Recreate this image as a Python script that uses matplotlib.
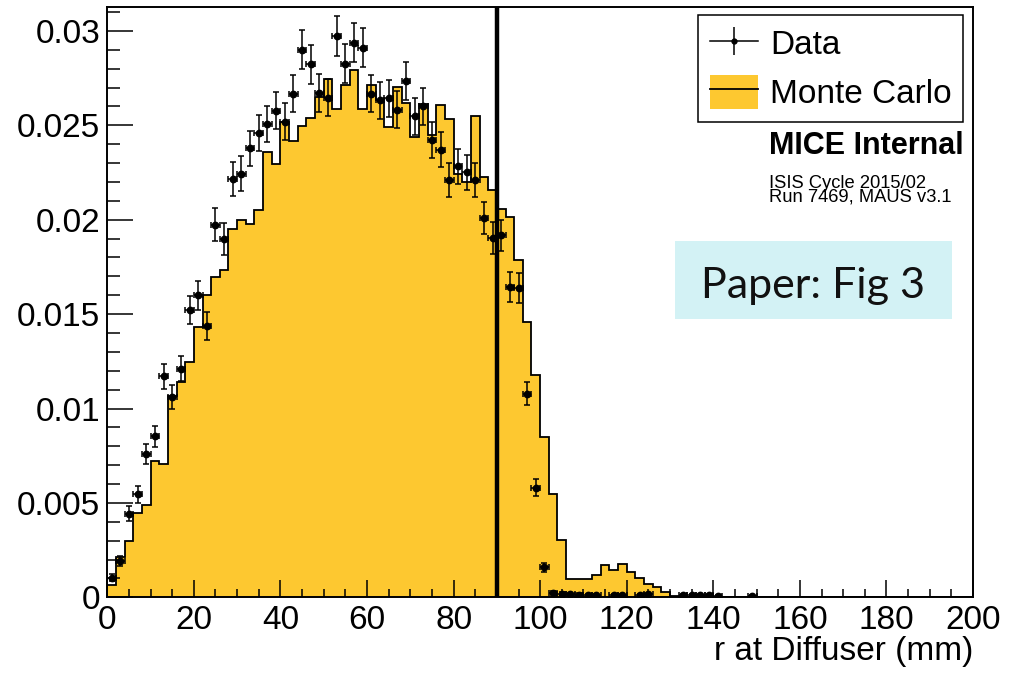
import numpy as np
import matplotlib
matplotlib.use("Agg")
import matplotlib.pyplot as plt
from matplotlib.patches import Patch, Rectangle
from matplotlib.lines import Line2D
from matplotlib.legend_handler import HandlerTuple
from matplotlib.ticker import MultipleLocator, FixedLocator, FixedFormatter

plt.rcParams['font.family'] = ['Liberation Sans', 'DejaVu Sans']

# ---------------- data ----------------
bin_edges = np.arange(0, 202, 2)  # 2 mm bins from 0 to 200 mm

mc_values = [
    0.00064, 0.00214, 0.00298, 0.00447, 0.00487, 0.00720, 0.00706, 0.01065, 0.01140, 0.01246,
    0.01430, 0.01600, 0.01697, 0.01736, 0.01950, 0.01997, 0.01976, 0.02050, 0.02359, 0.02297,
    0.02520, 0.02415, 0.02495, 0.02541, 0.02650, 0.02744, 0.02585, 0.02712, 0.02792, 0.02589,
    0.02712, 0.02636, 0.02491, 0.02703, 0.02620, 0.02438, 0.02615, 0.02447, 0.02610, 0.02532,
    0.02244, 0.02200, 0.02550, 0.02226, 0.02160, 0.02059, 0.02015, 0.01789, 0.01458, 0.01176,
    0.00849, 0.00549, 0.00306, 0.00097, 0.00097, 0.00097, 0.00120, 0.00172, 0.00145, 0.00174,
    0.00136, 0.00104, 0.00069, 0.00053, 0.00030, 0.00008, 0.00004, 0.00004, 0.00004, 0.00004,
    0.00004, 0.00004, 0.00004, 0.0, 0.0, 0.0, 0.0, 0.0, 0.0, 0.0,
    0.0, 0.0, 0.0, 0.0, 0.0, 0.0, 0.0, 0.0, 0.0, 0.0,
    0.0, 0.0, 0.0, 0.0, 0.0, 0.0, 0.0, 0.0, 0.0, 0.0,
]

data_values = [
    0.00104, 0.00192, 0.00443, 0.00546, 0.00757, 0.00853, 0.01171, 0.01061, 0.01211, 0.01520,
    0.01600, 0.01437, 0.01974, 0.01898, 0.02216, 0.02244, 0.02378, 0.02458, 0.02507, 0.02578,
    0.02520, 0.02668, 0.02901, 0.02823, 0.02673, 0.02647, 0.02972, 0.02827, 0.02938, 0.02912,
    0.02668, 0.02633, 0.02643, 0.02583, 0.02735, 0.02548, 0.02601, 0.02421, 0.02371, 0.02209,
    0.02283, 0.02251, 0.02209, 0.02008, 0.01905, 0.01917, 0.01644, 0.01638, 0.01079, 0.00581,
    0.00160, 0.00025, 0.00020, 0.00016, 0.00014, 0.00013, 0.00012, 0.0, 0.00010, 0.00010,
    0.0, 0.00010, 0.00015, 0.0, 0.0, 0.0, 0.00010, 0.00010, 0.00010, 0.00010,
    0.00008, 0.0, 0.0, 0.0, 0.00008, 0.0, 0.0, 0.0, 0.0, 0.0,
    0.0, 0.0, 0.0, 0.0, 0.0, 0.0, 0.0, 0.0, 0.0, 0.0,
    0.0, 0.0, 0.0, 0.0, 0.0, 0.0, 0.0, 0.0, 0.0, 0.0,
]

data_errors = [
    0.00018, 0.00027, 0.00041, 0.00045, 0.00053, 0.00056, 0.00066, 0.00063, 0.00067, 0.00075,
    0.00077, 0.00073, 0.00086, 0.00084, 0.00091, 0.00091, 0.00094, 0.00096, 0.00097, 0.00098,
    0.00097, 0.00100, 0.00104, 0.00102, 0.00100, 0.00099, 0.00105, 0.00103, 0.00105, 0.00104,
    0.00100, 0.00099, 0.00099, 0.00098, 0.00101, 0.00097, 0.00098, 0.00095, 0.00094, 0.00091,
    0.00092, 0.00092, 0.00091, 0.00086, 0.00084, 0.00084, 0.00078, 0.00078, 0.00063, 0.00046,
    0.00024, 0.00010, 0.00009, 0.00008, 0.00007, 0.00007, 0.00007, 0.0, 0.00006, 0.00006,
    0.0, 0.00006, 0.00007, 0.0, 0.0, 0.0, 0.00006, 0.00006, 0.00006, 0.00006,
    0.00005, 0.0, 0.0, 0.0, 0.00005, 0.0, 0.0, 0.0, 0.0, 0.0,
    0.0, 0.0, 0.0, 0.0, 0.0, 0.0, 0.0, 0.0, 0.0, 0.0,
    0.0, 0.0, 0.0, 0.0, 0.0, 0.0, 0.0, 0.0, 0.0, 0.0,
]

x_ticks = [0, 20, 40, 60, 80, 100, 120, 140, 160, 180, 200]
x_tick_labels = ['0', '20', '40', '60', '80', '100', '120', '140', '160', '180', '200']
y_ticks = [0, 0.005, 0.01, 0.015, 0.02, 0.025, 0.03]
y_tick_labels = ['0', '0.005', '0.01', '0.015', '0.02', '0.025', '0.03']
cut_position = 90
x_label = 'r at Diffuser (mm)'
legend_labels = ['Data', 'Monte Carlo']
info_title = 'MICE Internal'
info_lines = ['ISIS Cycle 2015/02', 'Run 7469, MAUS v3.1']
stamp_text = 'Paper: Fig 3'

# ---------------- styling ----------------
MC_COLOR = '#FDC830'
STAMP_COLOR = '#D3F2F5'

edges = np.asarray(bin_edges, dtype=float)
mc = np.asarray(mc_values)
data = np.asarray(data_values)
err = np.asarray(data_errors)
centers = 0.5 * (edges[:-1] + edges[1:])
half_width = 0.5 * np.diff(edges)
mask = data > 0

fig = plt.figure(figsize=(10.12, 6.77), dpi=100)
ax = fig.add_axes([0.1060, 0.1177, 0.8555, 0.8715])

ax.stairs(mc, edges, fill=True, color=MC_COLOR, zorder=1)
ax.stairs(mc, edges, color='black', linewidth=1.3, zorder=2)

ax.errorbar(centers[mask], data[mask], yerr=err[mask], xerr=half_width[mask],
            fmt='o', color='black', ecolor='black', markersize=4.6,
            elinewidth=1.1, capsize=2.2, capthick=1.1, zorder=3)

ax.axvline(cut_position, color='black', linewidth=3.2, zorder=4)

ax.set_xlim(edges[0], edges[-1])
ax.set_ylim(0, 0.03125)

ax.xaxis.set_major_locator(FixedLocator(x_ticks))
ax.xaxis.set_major_formatter(FixedFormatter(x_tick_labels))
ax.xaxis.set_minor_locator(MultipleLocator(5))
ax.yaxis.set_major_locator(FixedLocator(y_ticks))
ax.yaxis.set_major_formatter(FixedFormatter(y_tick_labels))
ax.yaxis.set_minor_locator(MultipleLocator(0.001))

ax.tick_params(which='both', direction='in', top=False, right=False,
               width=1.1, colors='black', labelsize=24)
ax.tick_params(axis='x', which='major', length=12, pad=5.5)
ax.tick_params(axis='x', which='minor', length=6)
ax.tick_params(axis='y', which='major', length=18.5, pad=5)
ax.tick_params(axis='y', which='minor', length=9.5)

for sp in ax.spines.values():
    sp.set_linewidth(1.4)

ax.set_xlabel(x_label, fontsize=24, ha='right')
ax.xaxis.set_label_coords(1.0, -0.066)

# legend
data_handle = (Line2D([], [], color='black', linewidth=1.1, marker='o', markersize=3.5),
               Line2D([], [], color='black', linestyle='none', marker='|',
                      markersize=20, markeredgewidth=1.1))
mc_handle = (Patch(facecolor=MC_COLOR, edgecolor='none'),
             Line2D([], [], color='black', linewidth=1.3))
leg = ax.legend([data_handle, mc_handle], legend_labels,
                handler_map={tuple: HandlerTuple(ndivide=1, pad=0)},
                loc='upper right', bbox_to_anchor=(0.9885, 0.987),
                borderaxespad=0, fontsize=24, frameon=True, fancybox=False,
                framealpha=1, edgecolor='black', handlelength=1.45,
                handleheight=1.15, handletextpad=0.35, borderpad=0.35,
                labelspacing=0.42)
leg.get_frame().set_linewidth(1.1)

# info text
W, H = 1012.0, 677.0
fig.text(769 / W, 1 - 154 / H, info_title, fontsize=22, fontweight='bold',
         ha='left', va='baseline')
fig.text(769 / W, 1 - 201.7 / H, '\n'.join(info_lines), fontsize=13.2,
         ha='left', va='baseline', linespacing=0.78)

# stamp box
fig.patches.append(Rectangle((675 / W, 1 - 319 / H), (952 - 675) / W, (319 - 241) / H,
                             transform=fig.transFigure, facecolor=STAMP_COLOR,
                             edgecolor='none', zorder=5))
fig.text(813.5 / W, 1 - 298 / H, stamp_text, fontsize=31, family=['Lato', 'DejaVu Sans'],
         color='#111111', ha='center', va='baseline', zorder=6)

fig.savefig('out.png', dpi=100)
